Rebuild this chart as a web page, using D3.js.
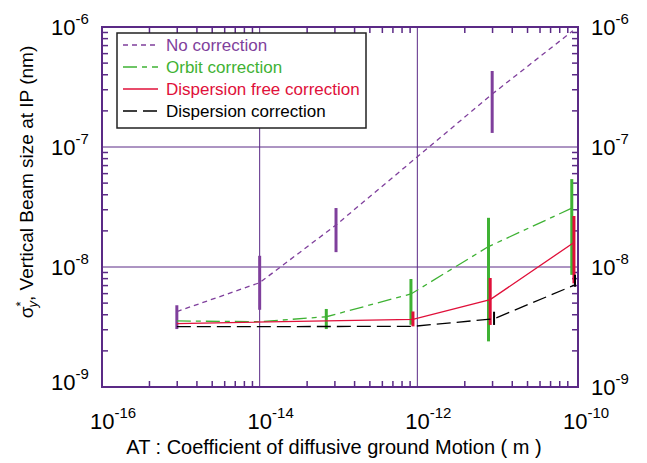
<!DOCTYPE html>
<html>
<head>
<meta charset="utf-8">
<script src="https://cdn.jsdelivr.net/npm/d3@7"></script>
<style>
  body { margin: 0; background: #fff; }
  text { font-family: "Liberation Sans", Arial, sans-serif; }
</style>
</head>
<body>
<div id="graph"></div>
<script>
// values (x = AT in m, y = sigma*y)
const noCorrX  = [8.9e-16, 1e-14, 9.3e-14, 8.9e-12, 9.4e-11];
const noCorrY  = [4.25e-9, 7.4e-9, 2.24e-8, 2.76e-7, 9.3e-7];
const noCorrHi = [4.8e-9, 1.24e-8, 3.1e-8, 4.3e-7, null];
const noCorrLo = [3.04e-9, 4.4e-9, 1.33e-8, 1.31e-7, null];

const orbitX  = [8.9e-16, 1e-14, 7e-14, 8.3e-13, 8e-12, 9.1e-11];
const orbitY  = [3.55e-9, 3.5e-9, 3.85e-9, 5.96e-9, 1.48e-8, 3.09e-8];
const orbitHi = [null, null, 4.47e-9, 7.94e-9, 2.57e-8, 5.4e-8];
const orbitLo = [null, null, 3.04e-9, 3.3e-9, 2.4e-9, 8.6e-9];

const dfsX  = [8.9e-16, 8.8e-13, 8.4e-12, 9.7e-11];
const dfsY  = [3.38e-9, 3.66e-9, 5.35e-9, 1.6e-8];
const dfsHi = [null, 4.26e-9, 8.1e-9, 2.66e-8];
const dfsLo = [null, 3.2e-9, 3.29e-9, 7.3e-9];

const dispX  = [8.9e-16, 8.8e-13, 9.4e-12, 1e-10];
const dispY  = [3.18e-9, 3.2e-9, 3.7e-9, 7.1e-9];
const dispHi = [null, null, 4.24e-9, 8.6e-9];
const dispLo = [null, null, 3.29e-9, 6.86e-9];

const legendLabels = ["No correction", "Orbit correction", "Dispersion free correction", "Dispersion correction"];
const xTickExp = [-16, -14, -12, -10];
const yTickExp = [-6, -7, -8, -9];

const W = 647, H = 463;
const frame = {left: 102, top: 27, right: 578, bottom: 387};
const purpleAxis = "#5b2a86";

const svg = d3.select("#graph").append("svg")
    .attr("width", W).attr("height", H);

const x = d3.scaleLog().domain([1e-16, 1e-10]).range([102, 575]);
const y = d3.scaleLog().domain([1e-9, 1e-6]).range([387, 27]);

// gridlines (major decades)
xTickExp.slice(1, 3).forEach(e => {
    svg.append("line")
        .attr("x1", x(Math.pow(10, e))).attr("x2", x(Math.pow(10, e)))
        .attr("y1", frame.top).attr("y2", frame.bottom)
        .attr("stroke", purpleAxis).attr("stroke-width", 1);
});
yTickExp.slice(1, 3).forEach(e => {
    svg.append("line")
        .attr("x1", frame.left).attr("x2", frame.right)
        .attr("y1", y(Math.pow(10, e))).attr("y2", y(Math.pow(10, e)))
        .attr("stroke", purpleAxis).attr("stroke-width", 1);
});

// minor ticks, y : every decade
const tickLen = 6;
for (let e = -9; e < -6; e++) {
    for (let k = 2; k <= 9; k++) {
        let yy = y(k * Math.pow(10, e));
        svg.append("line").attr("x1", frame.left).attr("x2", frame.left + tickLen)
            .attr("y1", yy).attr("y2", yy).attr("stroke", purpleAxis).attr("stroke-width", 1.5);
        svg.append("line").attr("x1", frame.right).attr("x2", frame.right - tickLen)
            .attr("y1", yy).attr("y2", yy).attr("stroke", purpleAxis).attr("stroke-width", 1.5);
    }
}
// minor ticks, x : spread over each labelled pair of decades (as in the original)
for (let i = 0; i < 3; i++) {
    let a = x(Math.pow(10, xTickExp[i])), b = x(Math.pow(10, xTickExp[i + 1]));
    for (let k = 2; k <= 9; k++) {
        let xx = a + (b - a) * Math.log10(k);
        svg.append("line").attr("x1", xx).attr("x2", xx)
            .attr("y1", frame.top).attr("y2", frame.top + tickLen)
            .attr("stroke", purpleAxis).attr("stroke-width", 1.5);
        svg.append("line").attr("x1", xx).attr("x2", xx)
            .attr("y1", frame.bottom).attr("y2", frame.bottom - tickLen)
            .attr("stroke", purpleAxis).attr("stroke-width", 1.5);
    }
}

// frame
svg.append("rect")
    .attr("x", frame.left).attr("y", frame.top)
    .attr("width", frame.right - frame.left).attr("height", frame.bottom - frame.top)
    .attr("fill", "none").attr("stroke", purpleAxis).attr("stroke-width", 2);

// tick labels
function powLabel(g, e, xx, yy, anchor) {
    let t = g.append("text").attr("x", xx).attr("y", yy)
        .attr("text-anchor", anchor).attr("font-size", 22).attr("fill", "#000");
    t.append("tspan").text("10");
    t.append("tspan").attr("font-size", 15).attr("dy", -11).text(e);
    return t;
}
xTickExp.forEach(e => {
    powLabel(svg, e, x(Math.pow(10, e)) + 11, 429, "middle");
});
yTickExp.forEach(e => {
    let yy = y(Math.pow(10, e));
    powLabel(svg, e, 51, e === -9 ? yy + 3 : yy + 8, "start");
    powLabel(svg, e, 591, yy + 8, "start");
});

// axis titles
svg.append("text")
    .attr("x", 334).attr("y", 454)
    .attr("text-anchor", "middle").attr("font-size", 20)
    .text("AT : Coefficient of diffusive ground Motion ( m )");

let yt = svg.append("text")
    .attr("transform", "translate(33,182) rotate(-90)")
    .attr("text-anchor", "middle").attr("font-size", 19);
yt.append("tspan").text("σ");
yt.append("tspan").attr("font-size", 13).attr("dy", -8).text("*");
yt.append("tspan").attr("font-size", 13).attr("dy", 12).attr("dx", -6).attr("font-style", "italic").text("y");
yt.append("tspan").attr("dy", -4).text(", Vertical Beam size at IP (nm)");

// series
const series = [
    {name: legendLabels[0], xs: noCorrX, ys: noCorrY, hi: noCorrHi, lo: noCorrLo, color: "#7f3f9c", dash: "5,4", bar: 3},
    {name: legendLabels[1], xs: orbitX, ys: orbitY, hi: orbitHi, lo: orbitLo, color: "#3fb234", dash: "14,5,5,5", bar: 3},
    {name: legendLabels[2], xs: dfsX, ys: dfsY, hi: dfsHi, lo: dfsLo, color: "#e0103a", dash: null, bar: 3},
    {name: legendLabels[3], xs: dispX, ys: dispY, hi: dispHi, lo: dispLo, color: "#000000", dash: "14,6", bar: 2}
];

const line = d3.line().x(d => x(d[0])).y(d => y(d[1]));

series.forEach(s => {
    let pts = s.xs.map((v, i) => [v, s.ys[i]]);
    svg.append("path")
        .attr("d", line(pts))
        .attr("fill", "none")
        .attr("stroke", s.color)
        .attr("stroke-width", 1.3)
        .attr("stroke-dasharray", s.dash);
    svg.append("g").selectAll("line")
        .data(s.xs.map((v, i) => ({x: v, hi: s.hi[i], lo: s.lo[i]})).filter(d => d.hi !== null))
        .enter()
        .append("line")
        .attr("x1", d => x(d.x)).attr("x2", d => x(d.x))
        .attr("y1", d => y(d.hi)).attr("y2", d => y(d.lo))
        .attr("stroke", s.color)
        .attr("stroke-width", s.bar);
});

// legend
const lg = svg.append("g");
lg.append("rect")
    .attr("x", 117).attr("y", 33).attr("width", 249).attr("height", 95)
    .attr("fill", "#fff").attr("stroke", "#222").attr("stroke-width", 1.5);
series.forEach((s, i) => {
    let ly = 45 + i * 22;
    lg.append("line")
        .attr("x1", 123).attr("x2", 158).attr("y1", ly).attr("y2", ly)
        .attr("stroke", s.color).attr("stroke-width", 1.3)
        .attr("stroke-dasharray", s.dash);
    lg.append("text")
        .attr("x", 166).attr("y", ly + 6)
        .attr("font-size", 17)
        .attr("fill", s.color)
        .text(s.name);
});
</script>
</body>
</html>
